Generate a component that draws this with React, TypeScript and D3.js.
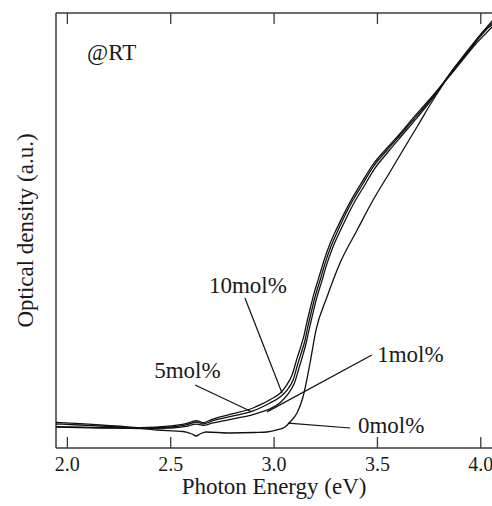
import React from "react";
import * as d3 from "d3";

// Photon energy (eV) / optical density (a.u., 0-100 of plot height)
const mol0: [number, number][] = [
  [1.945, 4.83], [2.158, 4.6], [2.352, 4.48], [2.434, 4.14], [2.56, 3.79], [2.603, 3.22],
  [2.623, 2.76], [2.642, 3.22], [2.671, 3.68], [2.787, 3.45], [2.908, 3.56], [2.966, 3.68],
  [3.014, 4.14], [3.053, 4.83], [3.077, 5.98], [3.111, 8.05], [3.14, 11.72], [3.174, 19.54],
  [3.203, 27.13], [3.256, 34.71], [3.319, 42.53], [3.402, 50.11], [3.479, 57.01], [3.552, 62.76],
  [3.624, 68.51], [3.697, 74.25], [3.769, 80.0], [3.866, 86.9], [3.948, 91.49], [4.011, 95.63],
  [4.055, 97.24],
];

const mol5: [number, number][] = [
  [1.945, 5.52], [2.061, 5.29], [2.158, 5.06], [2.255, 4.83], [2.352, 4.6], [2.502, 4.83],
  [2.574, 5.29], [2.623, 5.98], [2.657, 5.52], [2.7, 6.21], [2.802, 7.36], [2.898, 8.51],
  [2.932, 9.2], [2.98, 10.34], [3.029, 11.72], [3.063, 13.33], [3.092, 15.63], [3.116, 19.54],
  [3.136, 22.53], [3.15, 24.83], [3.16, 27.13], [3.179, 31.03], [3.198, 34.71], [3.223, 38.62],
  [3.247, 42.53], [3.276, 46.44], [3.31, 50.11], [3.344, 53.56], [3.382, 57.01], [3.426, 60.46],
  [3.479, 64.6], [3.547, 68.51], [3.61, 71.95], [3.673, 75.4], [3.755, 80.0], [3.866, 86.9],
  [3.982, 93.79], [4.055, 97.7],
];

const mol10: [number, number][] = [
  [1.945, 5.9], [2.061, 5.6], [2.158, 5.3], [2.255, 5.0], [2.352, 4.7], [2.502, 5.1],
  [2.574, 5.6], [2.623, 6.3], [2.657, 5.8], [2.7, 6.6], [2.802, 7.9], [2.898, 9.2],
  [2.932, 9.9], [2.98, 11.1], [3.029, 12.6], [3.06, 14.4], [3.088, 16.9], [3.111, 20.6],
  [3.131, 23.6], [3.145, 25.9], [3.155, 28.1], [3.174, 31.9], [3.193, 35.5], [3.218, 39.4],
  [3.242, 43.2], [3.271, 47.0], [3.305, 50.6], [3.34, 54.0], [3.378, 57.4], [3.422, 60.9],
  [3.476, 65.0], [3.545, 68.9], [3.61, 72.3], [3.673, 75.9], [3.755, 80.3], [3.866, 86.5],
  [3.982, 93.2], [4.055, 96.8],
];

const mol1: [number, number][] = [
  [1.945, 4.9], [2.061, 4.8], [2.158, 4.7], [2.255, 4.6], [2.352, 4.5], [2.502, 4.6],
  [2.574, 4.95], [2.623, 5.5], [2.657, 5.2], [2.7, 5.7], [2.802, 6.7], [2.898, 7.7],
  [2.932, 8.2], [2.98, 9.0], [3.029, 10.4], [3.066, 12.3], [3.098, 14.9], [3.122, 18.6],
  [3.142, 21.8], [3.156, 24.3], [3.167, 26.7], [3.186, 30.6], [3.205, 34.3], [3.23, 38.2],
  [3.254, 42.1], [3.283, 46.0], [3.318, 49.7], [3.352, 53.1], [3.39, 56.6], [3.433, 60.0],
  [3.485, 64.1], [3.552, 68.1], [3.614, 71.6], [3.677, 75.1], [3.758, 79.8], [3.87, 87.3],
  [3.985, 94.3], [4.055, 98.2],
];

const xTicks = [2.0, 2.5, 3.0, 3.5, 4.0];
const xTickLabels = ["2.0", "2.5", "3.0", "3.5", "4.0"];

// label text, label anchor (eV, a.u.), leader start (eV, a.u.), leader end (eV, a.u.)
const labelTexts = ["10mol%", "5mol%", "1mol%", "0mol%"];
const labelAt: [number, number][] = [[2.685, 35.6], [2.42, 16.1], [3.499, 19.8], [3.406, 3.45]];
const leaderFrom: [number, number][] = [[2.859, 34.5], [2.618, 14.5], [3.473, 21.4], [3.368, 4.6]];
const leaderTo: [number, number][] = [[3.039, 12.6], [2.884, 8.5], [2.966, 8.3], [3.068, 5.7]];

const W = 492;
const H = 506;

export default function App() {
  const x = d3.scaleLinear().domain([1.945, 4.093]).range([56, 500]);
  const y = d3.scaleLinear().domain([0, 100]).range([448, 13]);
  const line = d3
    .line<[number, number]>()
    .x((d) => x(d[0]))
    .y((d) => y(d[1]))
    .curve(d3.curveMonotoneX);

  const series = [mol0, mol1, mol5, mol10];
  const font = "'Liberation Serif', 'Times New Roman', serif";
  const axisColor = "#3a3a3a";
  const textColor = "#1a1a1a";

  return (
    <svg
      width={W}
      height={H}
      style={{ position: "absolute", left: 0, top: 0, background: "#fff" }}
      fontFamily={font}
    >
      <defs>
        <clipPath id="plot">
          <rect x={56} y={13} width={444} height={435} />
        </clipPath>
      </defs>
      {/* frame */}
      <line x1={56} x2={W + 10} y1={13} y2={13} stroke={axisColor} strokeWidth={1.5} />
      <line x1={56} x2={W + 10} y1={448} y2={448} stroke={axisColor} strokeWidth={1.5} />
      <line x1={56} x2={56} y1={13} y2={448} stroke={axisColor} strokeWidth={1.5} />
      {xTicks.map((t, i) => (
        <g key={i}>
          <line x1={x(t)} x2={x(t)} y1={448} y2={437} stroke={axisColor} strokeWidth={1.3} />
          <line x1={x(t)} x2={x(t)} y1={13} y2={24} stroke={axisColor} strokeWidth={1.3} />
          <text x={x(t)} y={471} fontSize={20} textAnchor="middle" fill={textColor}>
            {xTickLabels[i]}
          </text>
        </g>
      ))}
      <g clipPath="url(#plot)">
        {series.map((s, i) => (
          <path key={i} d={line(s) || ""} fill="none" stroke="#111" strokeWidth={1.3} />
        ))}
      </g>
      {labelTexts.map((t, i) => (
        <g key={i}>
          <line
            x1={x(leaderFrom[i][0])}
            y1={y(leaderFrom[i][1])}
            x2={x(leaderTo[i][0])}
            y2={y(leaderTo[i][1])}
            stroke="#111"
            strokeWidth={1.2}
          />
          <text x={x(labelAt[i][0])} y={y(labelAt[i][1])} fontSize={23} fill={textColor}>
            {t}
          </text>
        </g>
      ))}
      <text x={87} y={60} fontSize={23} fill={textColor}>
        @RT
      </text>
      <text x={x(3.0)} y={494} fontSize={23} textAnchor="middle" fill={textColor}>
        Photon Energy (eV)
      </text>
      <text
        transform={`translate(33,${(13 + 448) / 2}) rotate(-90)`}
        fontSize={23}
        textAnchor="middle"
        fill={textColor}
      >
        Optical density (a.u.)
      </text>
    </svg>
  );
}
